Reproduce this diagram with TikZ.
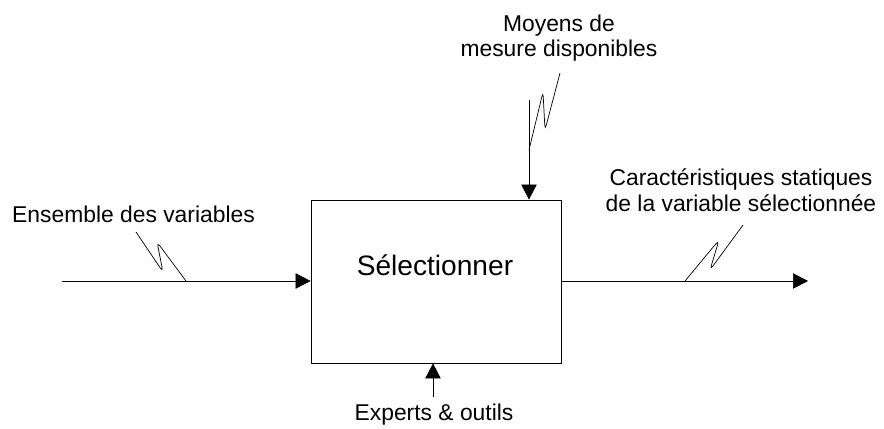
\documentclass[tikz,border=0pt]{standalone}
\usepackage{fontspec}
\setmainfont{Liberation Sans}
\usetikzlibrary{arrows.meta}

\begin{document}
\begin{tikzpicture}[x=0.03cm, y=-0.03cm, flow/.style={-{Triangle[length=4.5mm, width=4.6mm]}, line width=0.6pt}, squig/.style={line width=0.6pt, rounded corners=4pt}, label/.style={font=\fontsize{19.5}{22}\selectfont, align=center, inner sep=0pt}, activity/.style={draw, line width=0.7pt, minimum width=250*0.03cm, minimum height=163*0.03cm}]
\useasboundingbox (0,0) rectangle (884,429);

\node[activity] (sel) at (436,281.5) {};
\node[font=\fontsize{24}{28}\selectfont, inner sep=0pt] (seltxt) at (435,265) {Sélectionner};

\coordinate (inS) at (62,281); \coordinate (outE) at (808,281);
\coordinate (ctlS) at (529,100); \coordinate (mecS) at (433,397);
\draw[flow] (inS) -- (sel.west |- inS);
\draw[flow] (sel.east |- outE) -- (outE);
\draw[flow] (ctlS) -- (sel.north -| ctlS);
\draw[flow] (mecS) -- (sel.south -| mecS);

\node[label, anchor=west] (inlab) at (12,214) {Ensemble des variables};
\node[label] (ctllab) at (559,38) {Moyens de\\mesure disponibles};
\node[label] (outlab) at (741,190) {Caractéristiques statiques\\de la variable sélectionnée};
\node[label] (meclab) at (434,415) {Experts \& outils};

% squiggles
\draw[squig] (186,281) -- (157,242) -- (163,272) -- (136,232);
\draw[squig] (529,150) -- (543,92) -- (545,130) -- (560,73);
\draw[squig] (685,281) -- (719,240) -- (710,270) -- (743,225);
\end{tikzpicture}
\end{document}
